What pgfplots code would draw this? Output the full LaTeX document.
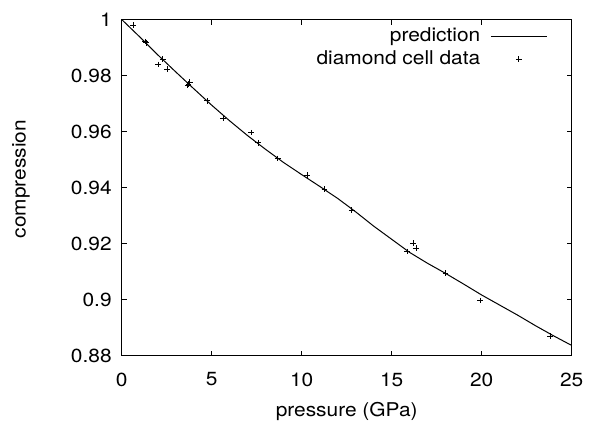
\documentclass[border=0pt]{standalone}
\usepackage{fontspec}
\setmainfont[FakeStretch=1.1]{TeX Gyre Heros}
\usepackage{pgfplots}
\pgfplotsset{compat=1.18}
\pgfplotsset{
  lineleg/.style={legend image code/.code={\draw[##1] (0pt,0pt) -- (28pt,0pt);}},
  markleg/.style={legend image code/.code={\draw[##1] plot coordinates {(14pt,0pt)};}},
}
\begin{document}
\begin{tikzpicture}
\begin{axis}[
  scale only axis,
  width=225pt, height=168pt,
  xmin=0, xmax=25, ymin=0.88, ymax=1,
  xtick={0,5,10,15,20,25},
  ytick={0.88,0.9,0.92,0.94,0.96,0.98,1},
  yticklabels={0.88,0.9,0.92,0.94,0.96,0.98,1},
  /pgf/number format/assume math mode=true,
  font=\fontsize{9.5}{11}\selectfont,
  tick align=inside,
  major tick length=2.5pt,
  axis line style={line width=0.5pt},
  tick style={line width=0.5pt,black},
  xlabel={pressure (GPa)},
  ylabel={compression},
  every axis x label/.style={at={(axis description cs:0.5,0)},anchor=center,yshift=-28pt},
  every axis y label/.style={at={(axis description cs:-0.2238,0.525)},anchor=center,rotate=90},
  yticklabel style={xshift=-1.5pt},
  xticklabel style={yshift=-5pt},
  legend cell align=right,
  legend plot pos=right,
  legend style={draw=none, fill=none, at={(axis description cs:1,1)}, anchor=north east, xshift=-9pt, yshift=0pt, row sep=-1pt, column sep=3pt, font=\fontsize{9.5}{11}\selectfont},
]
\addplot[black, line width=0.5pt, mark=none, lineleg]
  coordinates {
  (0,1.0) (1,0.9938) (2,0.9874) (3,0.9813) (4,0.9753) (5,0.9694)
  (6,0.9638) (7,0.9585) (8,0.9536) (9,0.9489) (10,0.9446) (11,0.9404)
  (12,0.9361) (13,0.9313) (14,0.9262) (15,0.9215) (16,0.9168) (17,0.9129)
  (17.5,0.9111) (18,0.9093) (19,0.9055) (20,0.9016) (21,0.8980) (22,0.8944)
  (23,0.8906) (24,0.8870) (25,0.8836)
  };
\addlegendentry{prediction}
\addplot[only marks, mark=+, mark size=1.4pt, black, line width=0.4pt, markleg]
  coordinates {
  (0.64,0.998) (1.30,0.9921) (1.36,0.9917) (2.03,0.9840) (2.28,0.9858)
  (2.53,0.9823) (3.67,0.9764) (3.72,0.9770) (3.78,0.9776) (4.74,0.9710)
  (5.63,0.9647) (7.20,0.9596) (7.57,0.9560) (8.67,0.9504) (10.31,0.9444)
  (11.26,0.9394) (12.78,0.9320) (15.85,0.9172) (16.20,0.9201) (16.35,0.9183)
  (18.00,0.9094) (19.92,0.8996) (23.80,0.8870)
  };
\addlegendentry{diamond cell data}
\end{axis}
\pgfresetboundingbox
\path ([shift={(-60.85pt,-34pt)}]current axis.south west) rectangle ([shift={(9.15pt,9.75pt)}]current axis.north east);
\end{tikzpicture}
\end{document}
